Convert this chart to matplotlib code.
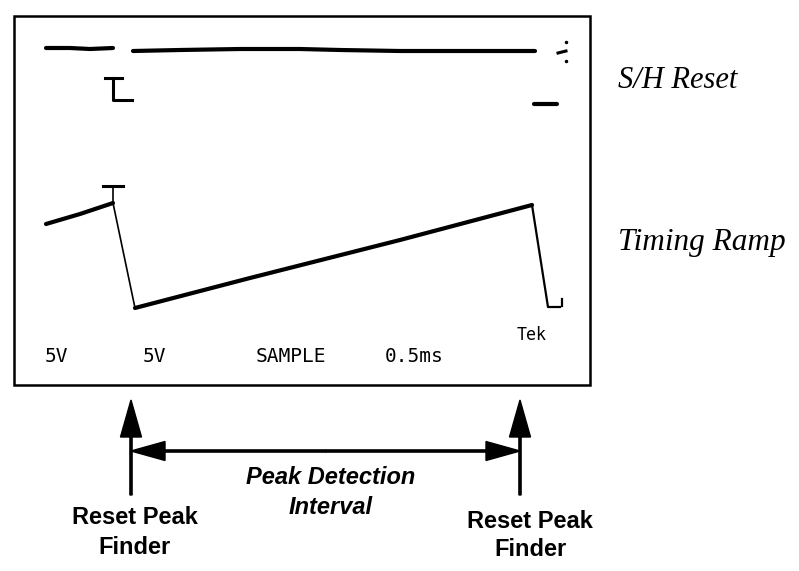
import matplotlib
matplotlib.use('Agg')
import matplotlib.pyplot as plt
from matplotlib.patches import Rectangle

# screen box (pixel coords, y grows downward)
box_x = [14, 590]
box_y = [16, 385]

# S/H reset trace
sh_top1_x = [46, 70, 90, 113]
sh_top1_y = [48, 48, 49, 48]
sh_top2_x = [133, 180, 240, 300, 340, 400, 470, 535]
sh_top2_y = [51, 50, 49, 49, 50, 51, 51, 51]
sh_tee_x = [113, 113, 132]
sh_tee_y = [78, 100, 100]
sh_bar_x = [105, 122]
sh_bar_y = [78, 78]
sh_foot_x = [534, 557]
sh_foot_y = [104, 104]
sh_glitch_x = [558, 566]
sh_glitch_y = [53, 51]
sh_dots_x = [566, 566]
sh_dots_y = [42, 61]

# timing ramp trace
ramp_left_x = [46, 80, 113]
ramp_left_y = [224, 214, 203]
ramp_main_x = [135, 250, 400, 532]
ramp_main_y = [308, 278, 240, 205]
fall1_x = [113, 135]
fall1_y = [203, 308]
fall2_x = [532, 548, 560]
fall2_y = [205, 307, 307]
hook_x = [562, 562]
hook_y = [299, 306]
ramp_bar_x = [103, 123]
ramp_bar_y = [186, 186]
ramp_tick_x = [113, 113]
ramp_tick_y = [186, 203]

# scope readout
readout_text = ['5V', '5V', 'SAMPLE', '0.5ms']
readout_x = [56, 154, 291, 414]
readout_y = 362

# annotations
reset_x = [131, 520]
arrow_top = 400
arrow_bottom = 495
interval_y = 451

fig = plt.figure(figsize=(7.99, 5.71), dpi=100)
ax = fig.add_axes([0, 0, 1, 1])
ax.set_xlim(0, 799)
ax.set_ylim(571, 0)
ax.set_axis_off()

ax.add_patch(Rectangle((box_x[0], box_y[0]), box_x[1] - box_x[0], box_y[1] - box_y[0],
                       fill=False, lw=1.8, ec='k'))

thick = dict(color='k', lw=3.0, solid_capstyle='round')
thin = dict(color='k', lw=1.2)

ax.plot(sh_top1_x, sh_top1_y, **thick)
ax.plot(sh_top2_x, sh_top2_y, **thick)
ax.plot(sh_tee_x, sh_tee_y, color='k', lw=2.2)
ax.plot(sh_bar_x, sh_bar_y, color='k', lw=2.2)
ax.plot(sh_foot_x, sh_foot_y, **thick)
ax.plot(sh_glitch_x, sh_glitch_y, color='k', lw=2.2)
ax.plot(sh_dots_x, sh_dots_y, 'k.', ms=3)

ax.plot(ramp_left_x, ramp_left_y, **thick)
ax.plot(ramp_main_x, ramp_main_y, **thick)
ax.plot(fall1_x, fall1_y, **thin)
ax.plot(fall2_x, fall2_y, color='k', lw=1.6)
ax.plot(hook_x, hook_y, color='k', lw=1.6)
ax.plot(ramp_bar_x, ramp_bar_y, color='k', lw=2.2)
ax.plot(ramp_tick_x, ramp_tick_y, **thin)

for t, x in zip(readout_text, readout_x):
    ax.text(x, readout_y, t, ha='center', va='baseline', family='DejaVu Sans Mono',
            fontsize=14)
ax.text(532, 340, 'Tek', ha='center', va='baseline', family='DejaVu Sans Mono', fontsize=12)

# trace labels
ax.text(618, 88, 'S/H Reset', family='Liberation Serif', style='italic', fontsize=22,
        va='baseline', ha='left')
ax.text(618, 250, 'Timing Ramp', family='Liberation Serif', style='italic', fontsize=22.5,
        va='baseline', ha='left')

# reset arrows
for x in reset_x:
    ax.arrow(x, arrow_bottom, 0, arrow_top - arrow_bottom, width=2.2, head_width=21,
             head_length=37, length_includes_head=True, color='k')

mid = (reset_x[0] + reset_x[1]) / 2
for x in reset_x:
    ax.arrow(mid, interval_y, x - mid, 0, width=2.2, head_width=19, head_length=34,
             length_includes_head=True, color='k')

ax.text(331, 478, 'Peak Detection', ha='center', va='center', family='Liberation Sans',
        weight='bold', style='italic', fontsize=17)
ax.text(331, 507, 'Interval', ha='center', va='center', family='Liberation Sans',
        weight='bold', style='italic', fontsize=17)

ax.text(135, 517, 'Reset Peak', ha='center', va='center', family='Liberation Sans',
        weight='bold', fontsize=17)
ax.text(135, 547, 'Finder', ha='center', va='center', family='Liberation Sans',
        weight='bold', fontsize=17)
ax.text(530, 521, 'Reset Peak', ha='center', va='center', family='Liberation Sans',
        weight='bold', fontsize=17)
ax.text(531, 550, 'Finder', ha='center', va='center', family='Liberation Sans',
        weight='bold', fontsize=17)

plt.savefig('out.png', dpi=100)
plt.close()
